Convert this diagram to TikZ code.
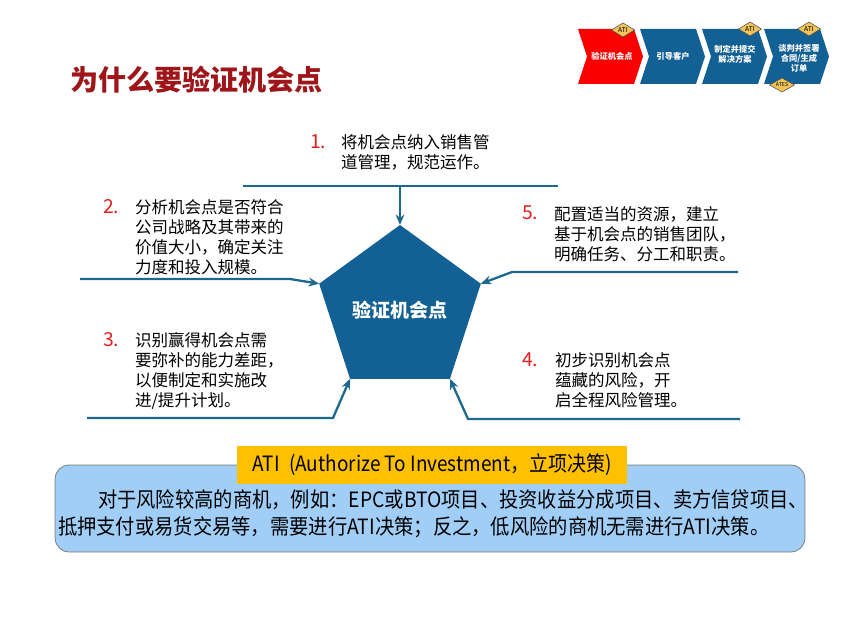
\documentclass[tikz,border=0pt]{standalone}
\usepackage{fontspec}
\setmainfont{Noto Sans CJK SC}
\usepackage{tikz}
\usetikzlibrary{calc,arrows.meta,shapes.geometric}
\definecolor{titlered}{RGB}{158,22,26}
\definecolor{pentblue}{RGB}{18,96,148}
\definecolor{linkblue}{RGB}{28,104,142}
\definecolor{numred}{RGB}{225,30,30}
\definecolor{chevred}{RGB}{250,0,0}
\definecolor{badgegold}{RGB}{240,196,90}
\definecolor{atiorange}{RGB}{255,192,0}
\definecolor{notefill}{RGB}{160,206,246}
\tikzset{
	every node/.style={inner sep=0pt,outer sep=0pt},
	item/.style={anchor=west,align=left,font=\fontsize{9.4}{11.4}\selectfont},
	num/.style={anchor=west,text=numred,font=\fontsize{11}{13}\selectfont},
	link/.style={draw=linkblue,line width=1.3pt},
	directed/.style={link,arrows={-Stealth[length=6pt,width=5pt]}},
	chevtext/.style={text=white,align=center,font=\fontsize{4.7}{5.8}\selectfont\bfseries},
	badge/.style={diamond,aspect=1.7,draw=black!70,fill=badgegold,line width=0.3pt,minimum width=0.46cm,minimum height=0.28cm,font=\fontsize{3.8}{4}\selectfont},
	notebox/.style={draw=black!55,fill=notefill,rounded corners=8pt,minimum width=15cm,minimum height=1.74cm},
	atibox/.style={fill=atiorange,minimum width=7.8cm,minimum height=0.76cm,font=\fontsize{12}{14}\selectfont}
}

\begin{document}
\begin{tikzpicture}[x=0.02cm,y=-0.02cm]
		\useasboundingbox (0,0) rectangle (851,638);
		% title
		\node[anchor=west,text=titlered,font=\fontsize{16}{18}\selectfont\bfseries] (title) at (70,80) {为什么要验证机会点};
		
		% process chevrons
		\foreach \xa/\col in {578/chevred,640/pentblue,702/pentblue,764/pentblue}
			\fill[\col] (\xa,29) -- ++(56,0) -- ++(9,27.5) -- ++(-9,27.5) -- ++(-56,0) -- ++(9,-27.5) -- cycle;
		\node[chevtext] (s1) at (612,56) {验证机会点};
		\node[chevtext] (s2) at (673,56) {引导客户};
		\node[chevtext] (s3) at (735,54) {制定并提交\\解决方案};
		\node[chevtext] (s4) at (799,58) {谈判并签署\\合同/生成\\订单};
		\node[badge] (b1) at (623,30) {ATI};
		\node[badge] (b3) at (750,29) {ATI};
		\node[badge] (b4) at (809,29) {ATI};
		\node[badge,minimum width=0.5cm,font=\fontsize{3}{3.5}\selectfont] (b5) at (782,85) {ATES};
		
		% center
		\node[regular polygon,regular polygon sides=5,minimum size=3.4cm,fill=pentblue,text=white,font=\fontsize{10.8}{12}\selectfont\bfseries] (pent) at (400,310) {验证机会点};
		
		% items
		\node[num] (n1) at (310,142) {1.};
		\node[item] (t1) at (341,152) {将机会点纳入销售管\\道管理，规范运作。};
		\node[num] (n2) at (103,207) {2.};
		\node[item] (t2) at (135,237) {分析机会点是否符合\\公司战略及其带来的\\价值大小，确定关注\\力度和投入规模。};
		\node[num] (n5) at (522,213) {5.};
		\node[item] (t5) at (554,234) {配置适当的资源，建立\\基于机会点的销售团队，\\明确任务、分工和职责。};
		\node[num] (n3) at (103,340) {3.};
		\node[item] (t3) at (135,371) {识别赢得机会点需\\要弥补的能力差距，\\以便制定和实施改\\进/提升计划。};
		\node[num] (n4) at (522,360) {4.};
		\node[item] (t4) at (555,380) {初步识别机会点\\蕴藏的风险，开\\启全程风险管理。};
		
		% connectors
		\coordinate (l1a) at (243,186);
		\coordinate (l1b) at (558,186);
		\coordinate (l1m) at (400,186);
		\coordinate (l2a) at (80,279);
		\coordinate (l2b) at (290,279);
		\coordinate (l5a) at (738,272);
		\coordinate (l5b) at (512,272);
		\coordinate (l3a) at (87,418);
		\coordinate (l3b) at (333,418);
		\coordinate (l4a) at (740,419);
		\coordinate (l4b) at (468,419);
		\draw[link] (l1a) -- (l1b);
		\draw[directed] (l1m) -- (pent.corner 1);
		\draw[directed] (l2a) -- (l2b) -- (pent.corner 2);
		\draw[directed] (l5a) -- (l5b) -- (pent.corner 5);
		\draw[directed] (l3a) -- (l3b) -- (pent.corner 3);
		\draw[directed] (l4a) -- (l4b) -- (pent.corner 4);
		
		% ATI note
		\node[notebox] (note) at (430,508.5) {};
		\node[atibox] (ati) at (432,465) {\scalebox{0.9}[1]{ATI\enspace(Authorize To Investment，立项决策)}};
		\node[anchor=west,align=left,font=\fontsize{12}{15.3}\selectfont] (notetext) at (58,513.5) {\hspace*{1.9em}\scalebox{0.915}[1]{对于风险较高的商机，例如：EPC或BTO项目、投资收益分成项目、卖方信贷项目、}\\\scalebox{0.915}[1]{抵押支付或易货交易等，需要进行ATI决策；反之，低风险的商机无需进行ATI决策。}};
		\end{tikzpicture}
\end{document}
